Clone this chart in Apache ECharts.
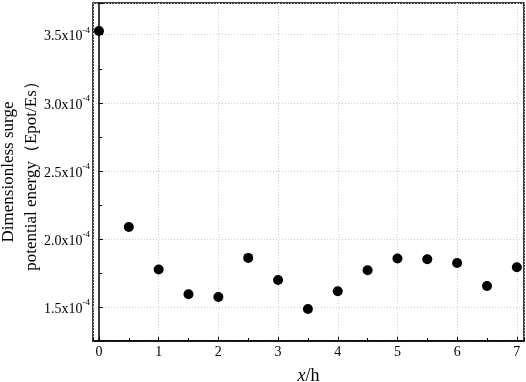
<!DOCTYPE html>
<html>
<head>
<meta charset="utf-8">
<script src="https://cdn.jsdelivr.net/npm/echarts@6/dist/echarts.min.js"></script>
<style>html,body{margin:0;padding:0;background:#fff}#c{width:526px;height:382px}</style>
</head>
<body>
<div id="c"></div>
<script>
const xValues = [0, 0.5, 1, 1.5, 2, 2.5, 3, 3.5, 4, 4.5, 5, 5.5, 6, 6.5, 7];
const yValues = [3.527e-4, 2.09e-4, 1.779e-4, 1.597e-4, 1.578e-4, 1.864e-4, 1.702e-4, 1.49e-4, 1.62e-4, 1.773e-4, 1.859e-4, 1.854e-4, 1.827e-4, 1.658e-4, 1.795e-4];
const yAxisTitle = 'Dimensionless surge\npotential energy（Epot/Es）';
const xAxisTitle = ['x', '/h'];

const chart = echarts.init(document.getElementById('c'));
const serif = 'Liberation Serif, Times New Roman, serif';
chart.setOption({
  animation: false,
  grid: {left: 93, right: 2, top: 3, bottom: 41, show: true, borderColor: '#000', borderWidth: 1.5, containLabel: false, outerBoundsMode: 'none'},
  xAxis: {
    type: 'value', min: -0.1, max: 7.12, splitNumber: 7,
    axisLine: {show: true, lineStyle: {color: '#000', width: 1.5}},
    axisTick: {show: true, inside: true, length: 4, lineStyle: {color: '#000'}},
    minorTick: {show: true, splitNumber: 2, length: 3, lineStyle: {color: '#000'}},
    axisLabel: {showMinLabel: false, showMaxLabel: false, margin: 4, color: '#000', fontFamily: serif, fontSize: 14},
    splitLine: {show: true, lineStyle: {color: '#ccc', type: [1, 2], width: 1}},
    name: '{i|' + xAxisTitle[0] + '}{n|' + xAxisTitle[1] + '}', nameLocation: 'middle', nameGap: 26, nameMoveOverlap: false,
    nameTextStyle: {rich: {i: {fontFamily: serif, fontStyle: 'italic', fontSize: 18, color: '#000'}, n: {fontFamily: serif, fontSize: 18, color: '#000'}}}
  },
  yAxis: {
    type: 'value', min: 1.255e-4, max: 3.732e-4, splitNumber: 5,
    axisLine: {show: true, lineStyle: {color: '#000', width: 1.5}},
    axisTick: {show: true, inside: true, length: 4, lineStyle: {color: '#000'}},
    minorTick: {show: true, splitNumber: 2, length: 3, lineStyle: {color: '#000'}},
    axisLabel: {
      showMinLabel: false, showMaxLabel: false, margin: 3, color: '#000',
      formatter: v => '{b|' + (v * 1e4).toFixed(1) + 'x10}{s|-4}',
      rich: {b: {fontFamily: serif, fontSize: 14, color: '#000', lineHeight: 18, verticalAlign: 'bottom'}, s: {fontFamily: serif, fontSize: 9, color: '#000', verticalAlign: 'top', lineHeight: 18}}
    },
    splitLine: {show: true, lineStyle: {color: '#ccc', type: [1, 2], width: 1}},
    name: yAxisTitle, nameLocation: 'middle', nameRotate: 90, nameGap: 50, nameMoveOverlap: false,
    nameTextStyle: {fontFamily: serif, fontSize: 17, color: '#000', lineHeight: 23}
  },
  series: [{
    type: 'scatter', symbol: 'circle', symbolSize: 10,
    itemStyle: {color: '#000', opacity: 1},
    data: xValues.map((x, i) => [x, yValues[i]])
  }]
});
</script>
</body>
</html>
